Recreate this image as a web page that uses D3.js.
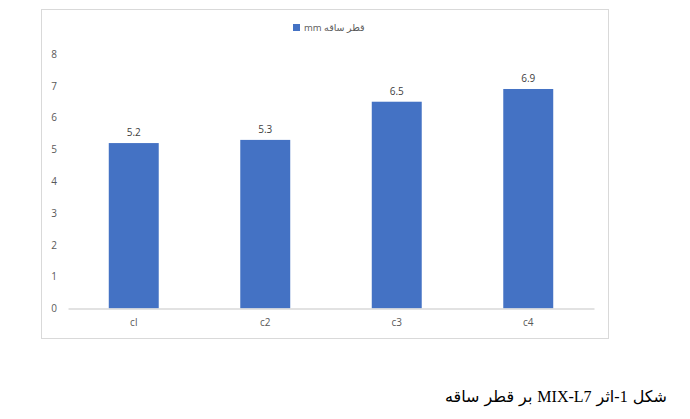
<!DOCTYPE html>
<html>
<head>
<meta charset="utf-8">
<script src="https://cdn.jsdelivr.net/npm/d3@7"></script>
<style>
  body { margin: 0; background: #fff; }
  svg text { font-family: "Open Sans", "DejaVu Sans", sans-serif; }
</style>
</head>
<body>
<svg class="chart" width="690" height="419"></svg>
<script>
const categories = ['cl', 'c2', 'c3', 'c4'];
const values = [5.2, 5.3, 6.5, 6.9];
const yTicks = [0, 1, 2, 3, 4, 5, 6, 7, 8];
const seriesName = 'mm قطر ساقه';
const caption = 'شکل 1-اثر MIX-L7 بر قطر ساقه';

const svg = d3.select('svg.chart');

// chart frame
svg.append('rect')
    .attr('x', 41.5).attr('y', 9.5)
    .attr('width', 567).attr('height', 329)
    .attr('fill', '#fff')
    .attr('stroke', '#d9d9d9');

const xScale = d3.scaleBand()
    .domain(categories)
    .range([68, 594])
    .paddingInner(0.62)
    .paddingOuter(0.31);

const yScale = d3.scaleLinear()
    .domain([0, 8])
    .range([308.5, 54]);

const yAxis = svg.append('g')
    .attr('transform', 'translate(57, 0)')
    .call(d3.axisLeft(yScale).tickValues(yTicks).tickSize(0).tickPadding(0));
yAxis.select('.domain').remove();
yAxis.selectAll('text')
    .attr('fill', '#595959')
    .style('font-size', '10px');

svg.selectAll('rect.bar').data(values)
    .enter().append('rect')
    .attr('class', 'bar')
    .attr('x', (d, i) => xScale(categories[i]))
    .attr('y', d => yScale(d))
    .attr('width', xScale.bandwidth())
    .attr('height', d => yScale(0) - yScale(d))
    .attr('fill', '#4472C4');

const xAxis = svg.append('g')
    .attr('transform', `translate(0, ${yScale(0)})`)
    .call(d3.axisBottom(xScale).tickSize(0).tickPadding(10).tickSizeOuter(0));
xAxis.select('.domain')
    .attr('stroke', '#d9d9d9')
    .attr('stroke-width', 1.5);
xAxis.selectAll('text')
    .attr('fill', '#595959')
    .style('font-size', '10px');

svg.selectAll('text.value').data(values)
    .enter().append('text')
    .attr('class', 'value')
    .attr('x', (d, i) => xScale(categories[i]) + xScale.bandwidth() / 2)
    .attr('y', d => yScale(d) - 7)
    .attr('text-anchor', 'middle')
    .attr('fill', '#404040')
    .style('font-size', '10px')
    .text(d => d);

// legend
svg.append('rect')
    .attr('x', 293).attr('y', 24)
    .attr('width', 7).attr('height', 7)
    .attr('fill', '#4472C4');
svg.append('text')
    .attr('x', 304).attr('y', 31)
    .attr('fill', '#595959')
    .style('font-size', '9.5px')
    .text(seriesName);

// caption
svg.append('text')
    .attr('x', 667).attr('y', 402)
    .attr('direction', 'rtl')
    .attr('text-anchor', 'start')
    .attr('fill', '#000')
    .style('font-family', '"Liberation Serif", "DejaVu Sans", serif')
    .style('font-size', '16px')
    .style('word-spacing', '1px')
    .text(caption);
</script>
</body>
</html>
